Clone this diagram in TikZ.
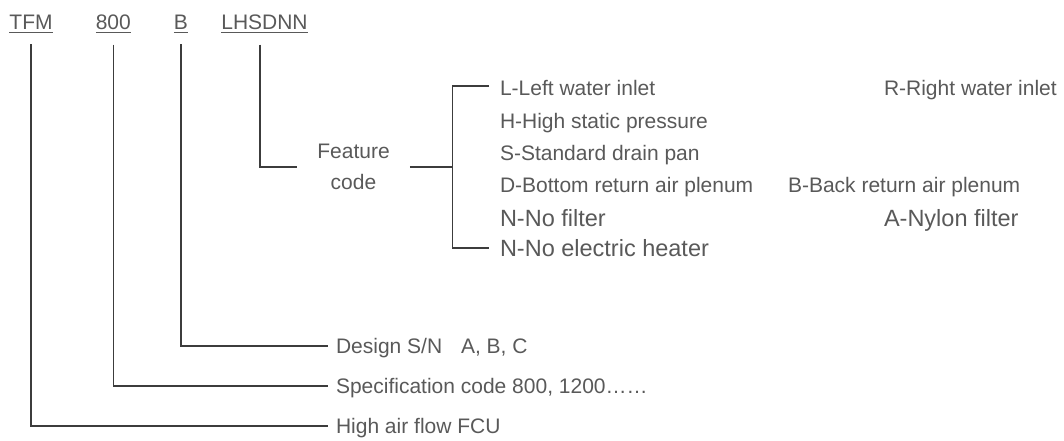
\documentclass[tikz,border=0pt]{standalone}
\usepackage{amsmath}
\usepackage{fontspec}
\setmainfont{Liberation Sans}
\usepackage{tikz}
\definecolor{txtgray}{HTML}{595959}
\definecolor{linegray}{HTML}{3C3C3C}
\tikzset{
    every node/.style={font=\fontsize{21}{31}\selectfont, text=txtgray, inner sep=3pt}
}
\tikzset{codelbl/.style={anchor=base, outer ysep=8pt}}
\tikzset{item/.style={anchor=west, text height=15pt, text depth=0pt, outer xsep=8pt}}
\tikzset{bigitem/.style={item, font=\fontsize{23.5}{28}\selectfont, text height=16.8pt}}
\tikzset{link/.style={draw=linegray, line width=1.2pt}}

\begin{document}
\begin{tikzpicture}[x=1pt, y=-1pt]
    \useasboundingbox (0,0) rectangle (1064,441);

    \node (tfm) [codelbl] at (31, 29.3) {\underline{TFM}};
    \node (size) [codelbl] at (113.3, 29.3) {\underline{800}};
    \node (des) [codelbl] at (181, 29.3) {\underline{B}};
    \node (lhs) [codelbl] at (264.5, 29.3) {\underline{LHSDNN}};

    \node (feat) [align=center, inner xsep=20pt] at (353.5, 167) {Feature\\code};
    \coordinate (br) at (452.7, 167);

    \node (left) [item] at (489, 88) {L-Left water inlet};
    \node (high) [item] at (489, 121) {H-High static pressure};
    \node (std) [item] at (489, 153) {S-Standard drain pan};
    \node (bot) [item] at (489, 185) {D-Bottom return air plenum};
    \node (nofil) [bigitem] at (489, 218) {N-No filter};
    \node (noheat) [bigitem] at (489, 248) {N-No electric heater};

    \node (right) [item] at (873, 88) {R-Right water inlet};
    \node (back) [item] at (777, 185) {B-Back return air plenum};
    \node (nylon) [bigitem] at (873, 218) {A-Nylon filter};

    \node (sn) [item, outer xsep=5pt] at (328, 346) {Design S/N\hspace{13pt} A, B, C};
    \node (spec) [item, outer xsep=5pt] at (328, 386) {Specification code 800, 1200……};
    \node (flow) [item, outer xsep=5pt] at (328, 426) {High air flow FCU};

    \draw[link] (tfm.south) |- (flow.west);
    \draw[link] (size.south) |- (spec.west);
    \draw[link] (des.south) |- (sn.west);
    \draw[link] ([xshift=-4.5pt]lhs.south) |- (feat.west);

    \draw[link] (feat.east) -- (br);
    \draw[link] ([yshift=2pt]left.west) -| (br) |- (noheat.west);
\end{tikzpicture}
\end{document}
